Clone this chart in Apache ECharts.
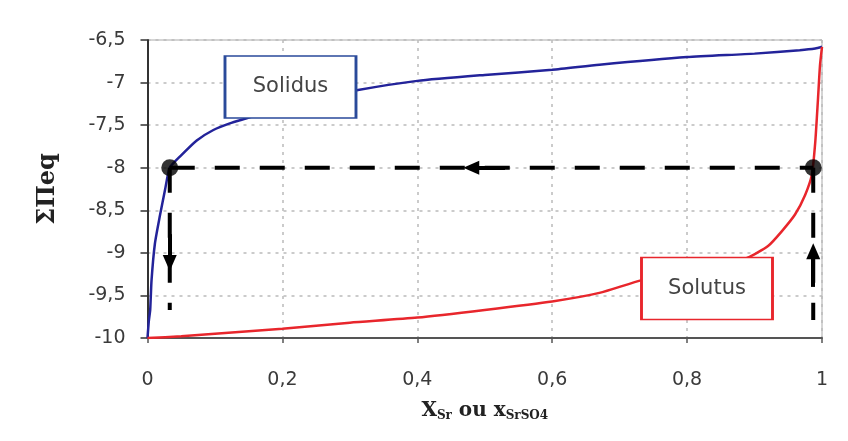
<!DOCTYPE html>
<html>
<head>
<meta charset="utf-8">
<script src="https://cdn.jsdelivr.net/npm/echarts@6/dist/echarts.min.js"></script>
<style>
html,body{margin:0;padding:0;background:#fff;}
#chart{width:848px;height:441px;}
</style>
</head>
<body>
<div id="chart"></div>
<script>
// ---- data ----
const xTicks = [0, 0.2, 0.4, 0.6, 0.8, 1];
const yTicks = [-10, -9.5, -9, -8.5, -8, -7.5, -7, -6.5];

const solidusX = [0, 0.002, 0.004, 0.006, 0.011, 0.018, 0.026, 0.033, 0.048, 0.073, 0.097, 0.122, 0.147, 0.2, 0.25, 0.31, 0.4, 0.5, 0.6, 0.67, 0.8, 0.9, 0.967, 0.99, 1];
const solidusY = [-10, -9.8, -9.67, -9.32, -8.89, -8.58, -8.26, -8.0, -7.87, -7.68, -7.56, -7.48, -7.42, -7.29, -7.19, -7.09, -6.98, -6.91, -6.85, -6.79, -6.70, -6.66, -6.62, -6.6, -6.58];

const solutusX = [0, 0.05, 0.1, 0.2, 0.3, 0.4, 0.5, 0.6, 0.67, 0.733, 0.8, 0.85, 0.889, 0.92, 0.94, 0.96, 0.975, 0.985, 0.99, 0.994, 0.997, 1];
const solutusY = [-10, -9.98, -9.95, -9.89, -9.82, -9.76, -9.67, -9.57, -9.47, -9.32, -9.22, -9.14, -9.06, -8.92, -8.75, -8.55, -8.32, -8.08, -7.7, -7.2, -6.8, -6.58];

const tieLevel = -8;
const solidPointX = 0.033;
const liquidPointX = 0.987;
const leftDropEnd = -9.67;
const rightRiseStart = -9.79;

const arrowH = [[0.53, -8], [0.48, -8]];
const arrowL = [[0.033, -8.78], [0.033, -9.12]];
const arrowR = [[0.987, -9.4], [0.987, -8.98]];

const solidusLabel = ['Solidus', 0.212, -7.052];
const solutusLabel = ['Solutus', 0.8295, -9.419];

// ---- build ----
const zip = (xs, ys) => xs.map((x, i) => [x, ys[i]]);
const comma = v => String(Number(v.toFixed(2))).replace('.', ',');

const chart = echarts.init(document.getElementById('chart'), null, {renderer: 'canvas'});

const dash = {type: [25, 20], width: 4, color: '#000'};
const lblFont = {fontFamily: 'DejaVu Sans', fontSize: 19, color: '#3a3a3a'};

function boxLabel(item, border) {
  return {
    type: 'scatter', z: 10, silent: true,
    data: [[item[1], item[2]]],
    symbol: 'rect', symbolSize: [131, 62],
    itemStyle: {color: '#fff', borderColor: border, borderWidth: 2, opacity: 1},
    label: {
      show: true, position: 'inside', formatter: item[0],
      fontFamily: 'DejaVu Sans', fontSize: 21, color: '#444'
    },
    emphasis: {disabled: true}
  };
}

const option = {
  animation: false,
  backgroundColor: '#fff',
  grid: {left: 147.5, right: 26, top: 40, bottom: 103, show: true, borderColor: '#aaa', borderWidth: 1},
  xAxis: {
    type: 'value', min: xTicks[0], max: xTicks[xTicks.length - 1], interval: 0.2,
    axisLine: {lineStyle: {color: '#555', width: 2}},
    axisTick: {show: true, length: 5, lineStyle: {color: '#555', width: 1.5}},
    axisLabel: Object.assign({margin: 33, formatter: v => comma(v)}, lblFont),
    splitLine: {show: true, lineStyle: {type: [3, 5], color: '#bbb', width: 1.5}},
    name: '{b|X}{s|Sr}{b| ou x}{s|SrSO4}', nameLocation: 'middle', nameGap: 62,
    nameTextStyle: {
      rich: {
        b: {fontFamily: 'DejaVu Serif', fontWeight: 'bold', fontSize: 20, color: '#222', lineHeight: 22},
        s: {fontFamily: 'DejaVu Serif', fontWeight: 'bold', fontSize: 12, color: '#222', lineHeight: 12, verticalAlign: 'bottom'}
      }
    }
  },
  yAxis: {
    type: 'value', min: yTicks[0], max: yTicks[yTicks.length - 1], interval: 0.5,
    axisLine: {show: true, lineStyle: {color: '#333', width: 2}},
    axisTick: {show: true, length: 7, lineStyle: {color: '#333', width: 1.5}},
    axisLabel: Object.assign({margin: 22, formatter: v => comma(v)}, lblFont),
    splitLine: {show: true, lineStyle: {type: [3, 5], color: '#bbb', width: 1.5}},
    name: 'ΣΠeq', nameLocation: 'middle', nameGap: 88,
    nameTextStyle: {fontFamily: 'DejaVu Serif', fontWeight: 'bold', fontSize: 24, color: '#222'}
  },
  series: [
    {type: 'line', data: zip(solidusX, solidusY), showSymbol: false, smooth: 0.2, z: 3,
     lineStyle: {color: '#23239a', width: 2.5}},
    {type: 'line', data: zip(solutusX, solutusY), showSymbol: false, smooth: 0.2, z: 3,
     lineStyle: {color: '#e8262c', width: 2.5}},
    {type: 'line', data: [[solidPointX, tieLevel], [liquidPointX, tieLevel]], showSymbol: false, z: 4, lineStyle: dash,
     markLine: {silent: true, symbol: ['none', 'triangle'], symbolSize: [14, 16], label: {show: false},
       lineStyle: {type: 'solid', width: 4, color: '#000'},
       data: [
         [{coord: arrowH[0]}, {coord: arrowH[1]}],
         [{coord: arrowL[0]}, {coord: arrowL[1]}],
         [{coord: arrowR[0]}, {coord: arrowR[1]}]
       ]}},
    {type: 'line', data: [[solidPointX, tieLevel], [solidPointX, leftDropEnd]], showSymbol: false, z: 4, lineStyle: dash},
    {type: 'line', data: [[liquidPointX, tieLevel], [liquidPointX, rightRiseStart]], showSymbol: false, z: 4, lineStyle: dash},
    {type: 'scatter', data: [[solidPointX, tieLevel], [liquidPointX, tieLevel]], symbolSize: 17, z: 6,
     itemStyle: {color: '#000'}},
    boxLabel(solidusLabel, '#2a4a9a'),
    boxLabel(solutusLabel, '#e8262c')
  ]
};
chart.setOption(option);
</script>
</body>
</html>
